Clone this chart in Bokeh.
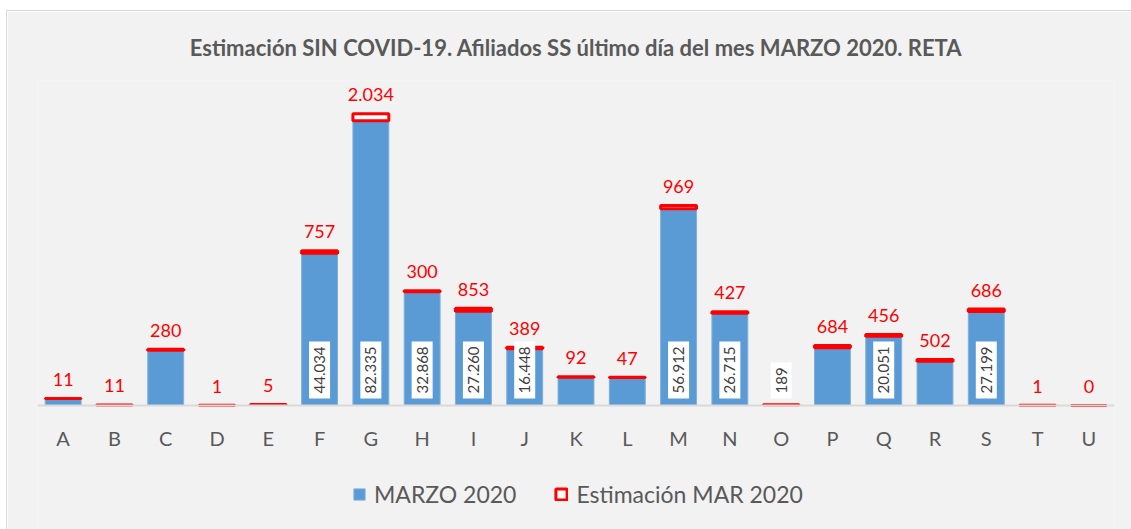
import math
from bokeh.plotting import figure
from bokeh.models import ColumnDataSource, FactorRange, Range1d, Legend, LegendItem
from bokeh.embed import file_html
from bokeh.resources import INLINE
from bokeh.core.properties import value

categorias = list("ABCDEFGHIJKLMNOPQRSTU")
marzo_2020 = [2000, 150, 16000, 100, 300, 44034, 82335, 32868, 27260, 16448, 8200,
              8100, 56912, 26715, 189, 16700, 20051, 12800, 27199, 50, 20]
estimacion_dif = [11, 11, 280, 1, 5, 757, 2034, 300, 853, 389, 92,
                  47, 969, 427, 3, 684, 456, 502, 686, 1, 0]
etiqueta_interior = [False, False, False, False, False, True, True, True, True, True, False,
                     False, True, True, True, False, True, False, True, False, False]

FONT = "Lato"
GRAY = "#595959"


def fmt(v):
    return f"{v:,}".replace(",", ".")


src = ColumnDataSource(dict(
    x=categorias,
    marzo=marzo_2020,
    top=[m + d for m, d in zip(marzo_2020, estimacion_dif)],
    dif_txt=[fmt(d) for d in estimacion_dif],
))
inner = ColumnDataSource(dict(
    x=[c for c, s in zip(categorias, etiqueta_interior) if s],
    y=[0 for s in etiqueta_interior if s],
    txt=[fmt(m) for m, s in zip(marzo_2020, etiqueta_interior) if s],
))

# frame spans page y 80..529; value 0 sits at page y 405
p = figure(width=1124, height=518, output_backend="svg", toolbar_location=None,
           x_range=FactorRange(factors=categorias), y_range=Range1d(-35865, 94000),
           min_border_left=30, min_border_right=17, min_border_top=69, min_border_bottom=0,
           margin=(11, 0, 0, 7))
p.background_fill_color = "#f2f2f2"
p.border_fill_color = "#f2f2f2"
p.outline_line_color = None
p.grid.visible = False
p.yaxis.visible = False
p.styles = {"outline": "1px solid #d9d9d9"}

p.title.text = "Estimación SIN COVID-19. Afiliados SS último día del mes MARZO 2020. RETA"
p.title.align = "center"
p.title.text_font = FONT
p.title.text_font_size = "22px"
p.title.text_font_style = "bold"
p.title.text_color = GRAY
p.title.standoff = 39

xa = p.xaxis[0]
xa.fixed_location = 0
xa.axis_line_color = "#d9d9d9"
xa.axis_line_width = 2
xa.major_tick_line_color = None
xa.minor_tick_line_color = None
xa.major_label_text_font = FONT
xa.major_label_text_font_size = "20px"
xa.major_label_text_color = GRAY
xa.major_label_standoff = 15

r_blue = p.vbar(x="x", top="marzo", bottom=0, width=0.7, source=src,
                fill_color="#5b9bd5", line_color="#7fb0dd", line_width=1)
r_red = p.vbar(x="x", top="top", bottom="marzo", width=0.7, source=src,
               fill_color="white", line_color="#ff0000", line_width=3)

p.text(x="x", y="top", text="dif_txt", source=src, text_align="center",
       text_baseline="alphabetic", y_offset=-19, text_color="#ff0000",
       text_font=value(FONT), text_font_size="18px")

p.text(x="x", y="y", text="txt", source=inner, angle=math.pi / 2,
       text_align="left", text_baseline="middle", y_offset=-7,
       text_color="#404040", text_font=value(FONT), text_font_size="15px",
       background_fill_color="white", padding=5)

legend = Legend(items=[LegendItem(label="MARZO 2020", renderers=[r_blue]),
                       LegendItem(label="Estimación MAR 2020", renderers=[r_red])],
                orientation="horizontal", location=(315, 21),
                background_fill_alpha=0, border_line_color=None,
                label_text_font=FONT, label_text_font_size="23px",
                label_text_color=GRAY, glyph_width=14, glyph_height=14,
                spacing=38, label_standoff=8, margin=0, padding=0)
p.add_layout(legend, "center")

open("out.html", "w").write(file_html(p, INLINE))
